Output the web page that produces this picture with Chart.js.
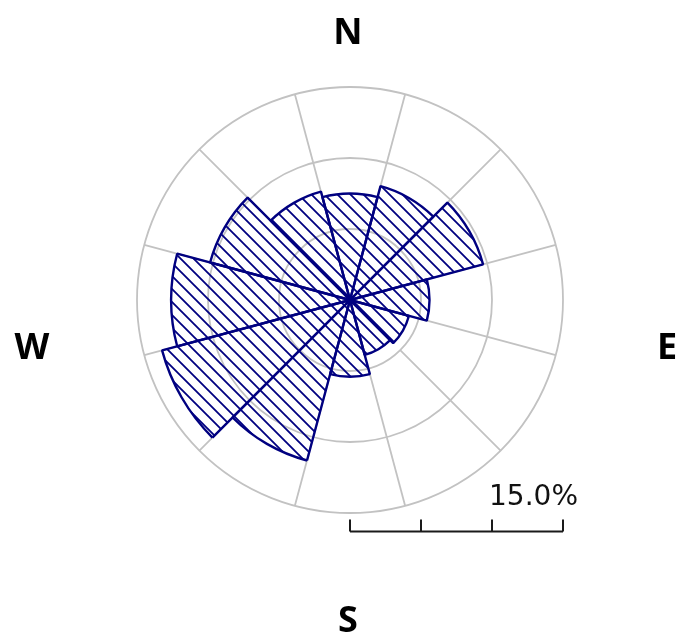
<!DOCTYPE html>
<html>
<head>
<meta charset="utf-8">
<script src="https://cdn.jsdelivr.net/npm/chart.js@4/dist/chart.umd.min.js"></script>
<style>
  html, body { margin: 0; padding: 0; background: #fff; }
  #wrap { position: relative; width: 678px; height: 635px; }
</style>
</head>
<body>
<div id="wrap"><canvas id="rose"></canvas></div>
<script>
// ==========================
// DONNÉES
// ==========================
const directions = ["N", "NNE", "ENE", "E", "ESE", "SSE", "S", "SSW", "WSW", "W", "WNW", "NNW"];
const frequencies = [7.5, 8.3, 9.7, 5.6, 4.3, 4.0, 5.4, 11.7, 13.7, 12.6, 10.2, 7.9];
const ringValues = [5, 10, 15];
const scaleBarTicks = [0, 5, 10, 15];
const scaleBarLabel = "15.0%";
const compassLabels = ["N", "E", "S", "W"];

const NAVY = "#000080";
const GRID = "#c2c2c2";

// motif hachuré (\\\)
function makeHatch() {
  const size = 13;
  const c = document.createElement("canvas");
  c.width = size;
  c.height = size;
  const g = c.getContext("2d");
  g.strokeStyle = NAVY;
  g.lineWidth = 1.8;
  g.beginPath();
  g.moveTo(-2, -2); g.lineTo(size + 2, size + 2);
  g.moveTo(-2, size - 2); g.lineTo(2, size + 2);
  g.moveTo(size - 2, -2); g.lineTo(size + 2, 2);
  g.stroke();
  return g.createPattern(c, "repeat");
}

/* =======================================================
   PLUGIN - rayons de la grille (de 5% à 15%)
======================================================= */
const roseGrid = {
  id: "roseGrid",
  beforeDatasetsDraw(chart) {
    const r = chart.scales.r;
    const ctx = chart.ctx;
    const inner = r.getDistanceFromCenterForValue(ringValues[0]);
    const outer = r.getDistanceFromCenterForValue(ringValues[ringValues.length - 1]);
    ctx.save();
    ctx.strokeStyle = GRID;
    ctx.lineWidth = 1.8;
    for (let i = 0; i < directions.length; i++) {
      const a = r.getPointPosition(i, inner);
      const b = r.getPointPosition(i, outer);
      ctx.beginPath();
      ctx.moveTo(a.x, a.y);
      ctx.lineTo(b.x, b.y);
      ctx.stroke();
    }
    ctx.restore();
  },
};

/* =======================================================
   PLUGIN - points cardinaux + échelle
======================================================= */
const roseDecor = {
  id: "roseDecor",
  afterDraw(chart) {
    const r = chart.scales.r;
    const ctx = chart.ctx;
    const cx = r.xCenter;
    const cy = r.yCenter;

    ctx.save();
    ctx.fillStyle = "#000";
    ctx.font = "bold 36px 'Open Sans'";
    ctx.textAlign = "center";
    ctx.textBaseline = "alphabetic";
    // N, E, S, W
    const spots = [
      [cx - 2, cy - 256.5],
      [cx + 317, cy + 58.5],
      [cx - 2, cy + 332],
      [cx - 318, cy + 58.5],
    ];
    compassLabels.forEach((t, i) => ctx.fillText(t, spots[i][0], spots[i][1]));

    // barre d'échelle
    const y = 531.5;
    const x0 = cx + r.getDistanceFromCenterForValue(scaleBarTicks[0]);
    const x1 = cx + r.getDistanceFromCenterForValue(scaleBarTicks[scaleBarTicks.length - 1]);
    ctx.strokeStyle = "#1a1a1a";
    ctx.lineWidth = 2;
    ctx.beginPath();
    ctx.moveTo(x0, y);
    ctx.lineTo(x1, y);
    scaleBarTicks.forEach((v) => {
      const x = cx + r.getDistanceFromCenterForValue(v);
      ctx.moveTo(x, y);
      ctx.lineTo(x, y - 12);
    });
    ctx.stroke();

    ctx.fillStyle = "#111";
    ctx.font = "28px 'DejaVu Sans'";
    ctx.textAlign = "right";
    ctx.fillText(scaleBarLabel, x1 + 15, 505);
    ctx.restore();
  },
};

/* =======================================================
   INIT
======================================================= */
const ctx = document.getElementById("rose").getContext("2d");
new Chart(ctx, {
  type: "polarArea",
  data: {
    labels: directions,
    datasets: [
      {
        label: "Fréquence (%)",
        data: frequencies,
        backgroundColor: makeHatch(),
        borderColor: NAVY,
        borderWidth: 2.4,
      },
    ],
  },
  options: {
    responsive: true,
    maintainAspectRatio: false,
    animation: false,
    layout: { padding: { left: 137, right: 115, top: 87, bottom: 122 } },
    plugins: {
      legend: { display: false },
      tooltip: { enabled: false },
    },
    scales: {
      r: {
        min: 0,
        max: 15,
        startAngle: -15,
        ticks: { display: false, stepSize: 5 },
        grid: { circular: true, color: GRID, lineWidth: 1.8 },
        angleLines: { display: false },
        pointLabels: { display: false },
      },
    },
  },
  plugins: [roseGrid, roseDecor],
});
</script>
</body>
</html>
